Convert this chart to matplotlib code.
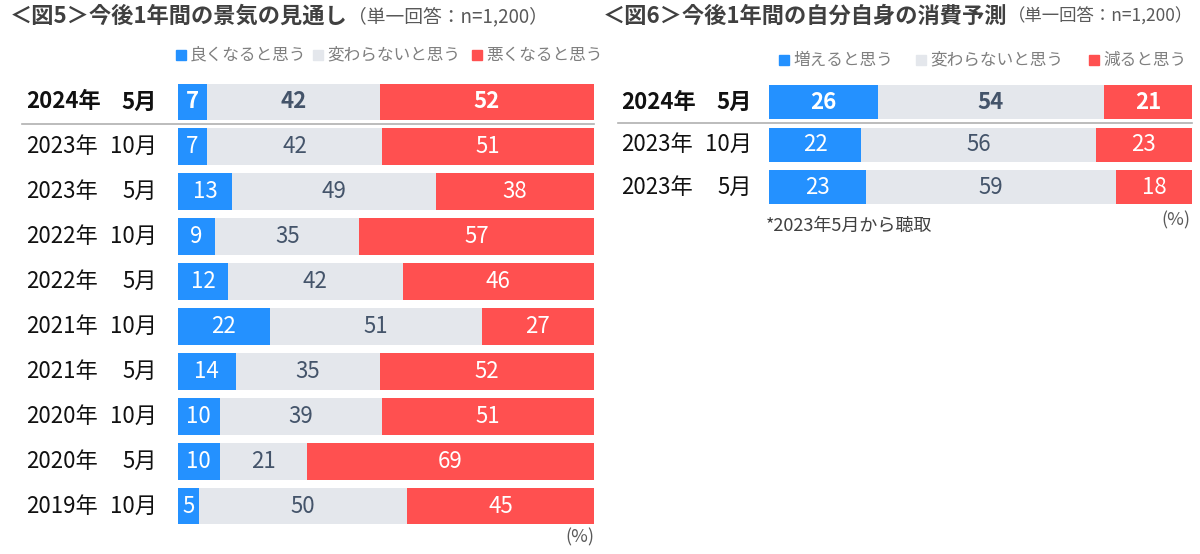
import numpy as np
import matplotlib.pyplot as plt
from matplotlib import transforms

plt.rcParams['font.family'] = ['Noto Sans CJK JP', 'DejaVu Sans']

# ---- data: fig5 ----
years5 = ['2024年', '2023年', '2023年', '2022年', '2022年', '2021年', '2021年', '2020年', '2020年', '2019年']
months5 = ['5月', '10月', '5月', '10月', '5月', '10月', '5月', '10月', '5月', '10月']
good5 = [7, 7, 13, 9, 12, 22, 14, 10, 10, 5]
same5 = [42, 42, 49, 35, 42, 51, 35, 39, 21, 50]
bad5 = [52, 51, 38, 57, 46, 27, 52, 51, 69, 45]
legend5 = ['良くなると思う', '変わらないと思う', '悪くなると思う']

# ---- data: fig6 ----
years6 = ['2024年', '2023年', '2023年']
months6 = ['5月', '10月', '5月']
up6 = [26, 22, 23]
same6 = [54, 56, 59]
down6 = [21, 23, 18]
legend6 = ['増えると思う', '変わらないと思う', '減ると思う']

BLUE = '#2491FF'
GRAY = '#E4E7EC'
RED = '#FF5050'
DARK = '#44546A'
W, H = 1200, 554

fig = plt.figure(figsize=(W / 100, H / 100), dpi=100)
renderer = fig.canvas.get_renderer()


def px_axes(x0, x1, ytop, ybot):
    return fig.add_axes([x0 / W, 1 - ybot / H, (x1 - x0) / W, (ybot - ytop) / H])


def draw_panel(ax, years, months, series, xyear, xmonth, xline, height):
    n = len(years)
    vals = np.array(series, dtype=float)
    share = vals / vals.sum(axis=0) * 100
    colors = [BLUE, GRAY, RED]
    tcol = ['white', DARK, 'white']
    ys = np.arange(n)
    left = np.zeros(n)
    for k in range(3):
        ax.barh(ys, share[k], left=left, height=height, color=colors[k],
                edgecolor='none')
        for i in range(n):
            ax.text(left[i] + share[k][i] / 2, ys[i], str(int(vals[k][i])),
                    ha='center', va='center', color=tcol[k], fontsize=16,
                    fontweight='bold' if i == 0 else 'normal')
        left += share[k]
    ax.set_xlim(0, 100)
    ax.set_ylim(n - 0.5, -0.5)
    ax.axis('off')
    tr = transforms.blended_transform_factory(fig.transFigure, ax.transData)
    for i in range(n):
        fw = 'bold' if i == 0 else 'normal'
        ax.text(xyear / W, ys[i], years[i], transform=tr, ha='left', va='center',
                fontsize=16, fontweight=fw, color='#111111')
        ax.text(xmonth / W, ys[i], months[i], transform=tr, ha='right', va='center',
                fontsize=16, fontweight=fw, color='#111111')
    x_end = ax.get_position().x1
    ax.plot([xline / W, x_end], [0.5, 0.5], transform=tr, color='#B0B0B0',
            lw=1.2, clip_on=False)


def legend_row(items, xs, y):
    for (txt, x, c) in zip(items, xs, [BLUE, GRAY, RED]):
        fig.patches.append(plt.Rectangle((x / W, 1 - (y + 5) / H), 10 / W, 10 / H,
                                         transform=fig.transFigure, color=c))
        fig.text((x + 14) / W, 1 - y / H, txt, ha='left', va='center',
                 fontsize=12, color='#7F7F7F')


def title(x, main, sub, subsize):
    t = fig.text(x / W, 1 - 16 / H, main, fontsize=16, fontweight='bold',
                 ha='left', va='center', color='#404040')
    x1 = t.get_window_extent(renderer).x1
    fig.text(x1 / W, 1 - 17 / H, sub, fontsize=subsize, ha='left', va='center',
             color='#595959')


# left panel
ax1 = px_axes(178, 594, 79.5, 528.5)
draw_panel(ax1, years5, months5, [good5, same5, bad5], 26, 157, 22, 0.82)
title(10, '＜図5＞今後1年間の景気の見通し', '（単一回答：n=1,200）', 13.5)
legend_row(legend5, [176, 313, 472], 55)
fig.text(594 / W, 1 - 537 / H, '(%)', fontsize=13, ha='right', va='center',
         color='#595959')

# right panel
ax2 = px_axes(769, 1192, 80.75, 208.25)
draw_panel(ax2, years6, months6, [up6, same6, down6], 621, 752, 618, 0.8)
title(603, '＜図6＞今後1年間の自分自身の消費予測', '（単一回答：n=1,200）', 12.5)
legend_row(legend6, [779, 916, 1089], 60)
fig.text(1190 / W, 1 - 220 / H, '(%)', fontsize=13, ha='right', va='center',
         color='#595959')
fig.text(766 / W, 1 - 226 / H, '*2023年5月から聴取', fontsize=13, ha='left',
         va='center', color='#404040')

fig.savefig('out.png', dpi=100)
